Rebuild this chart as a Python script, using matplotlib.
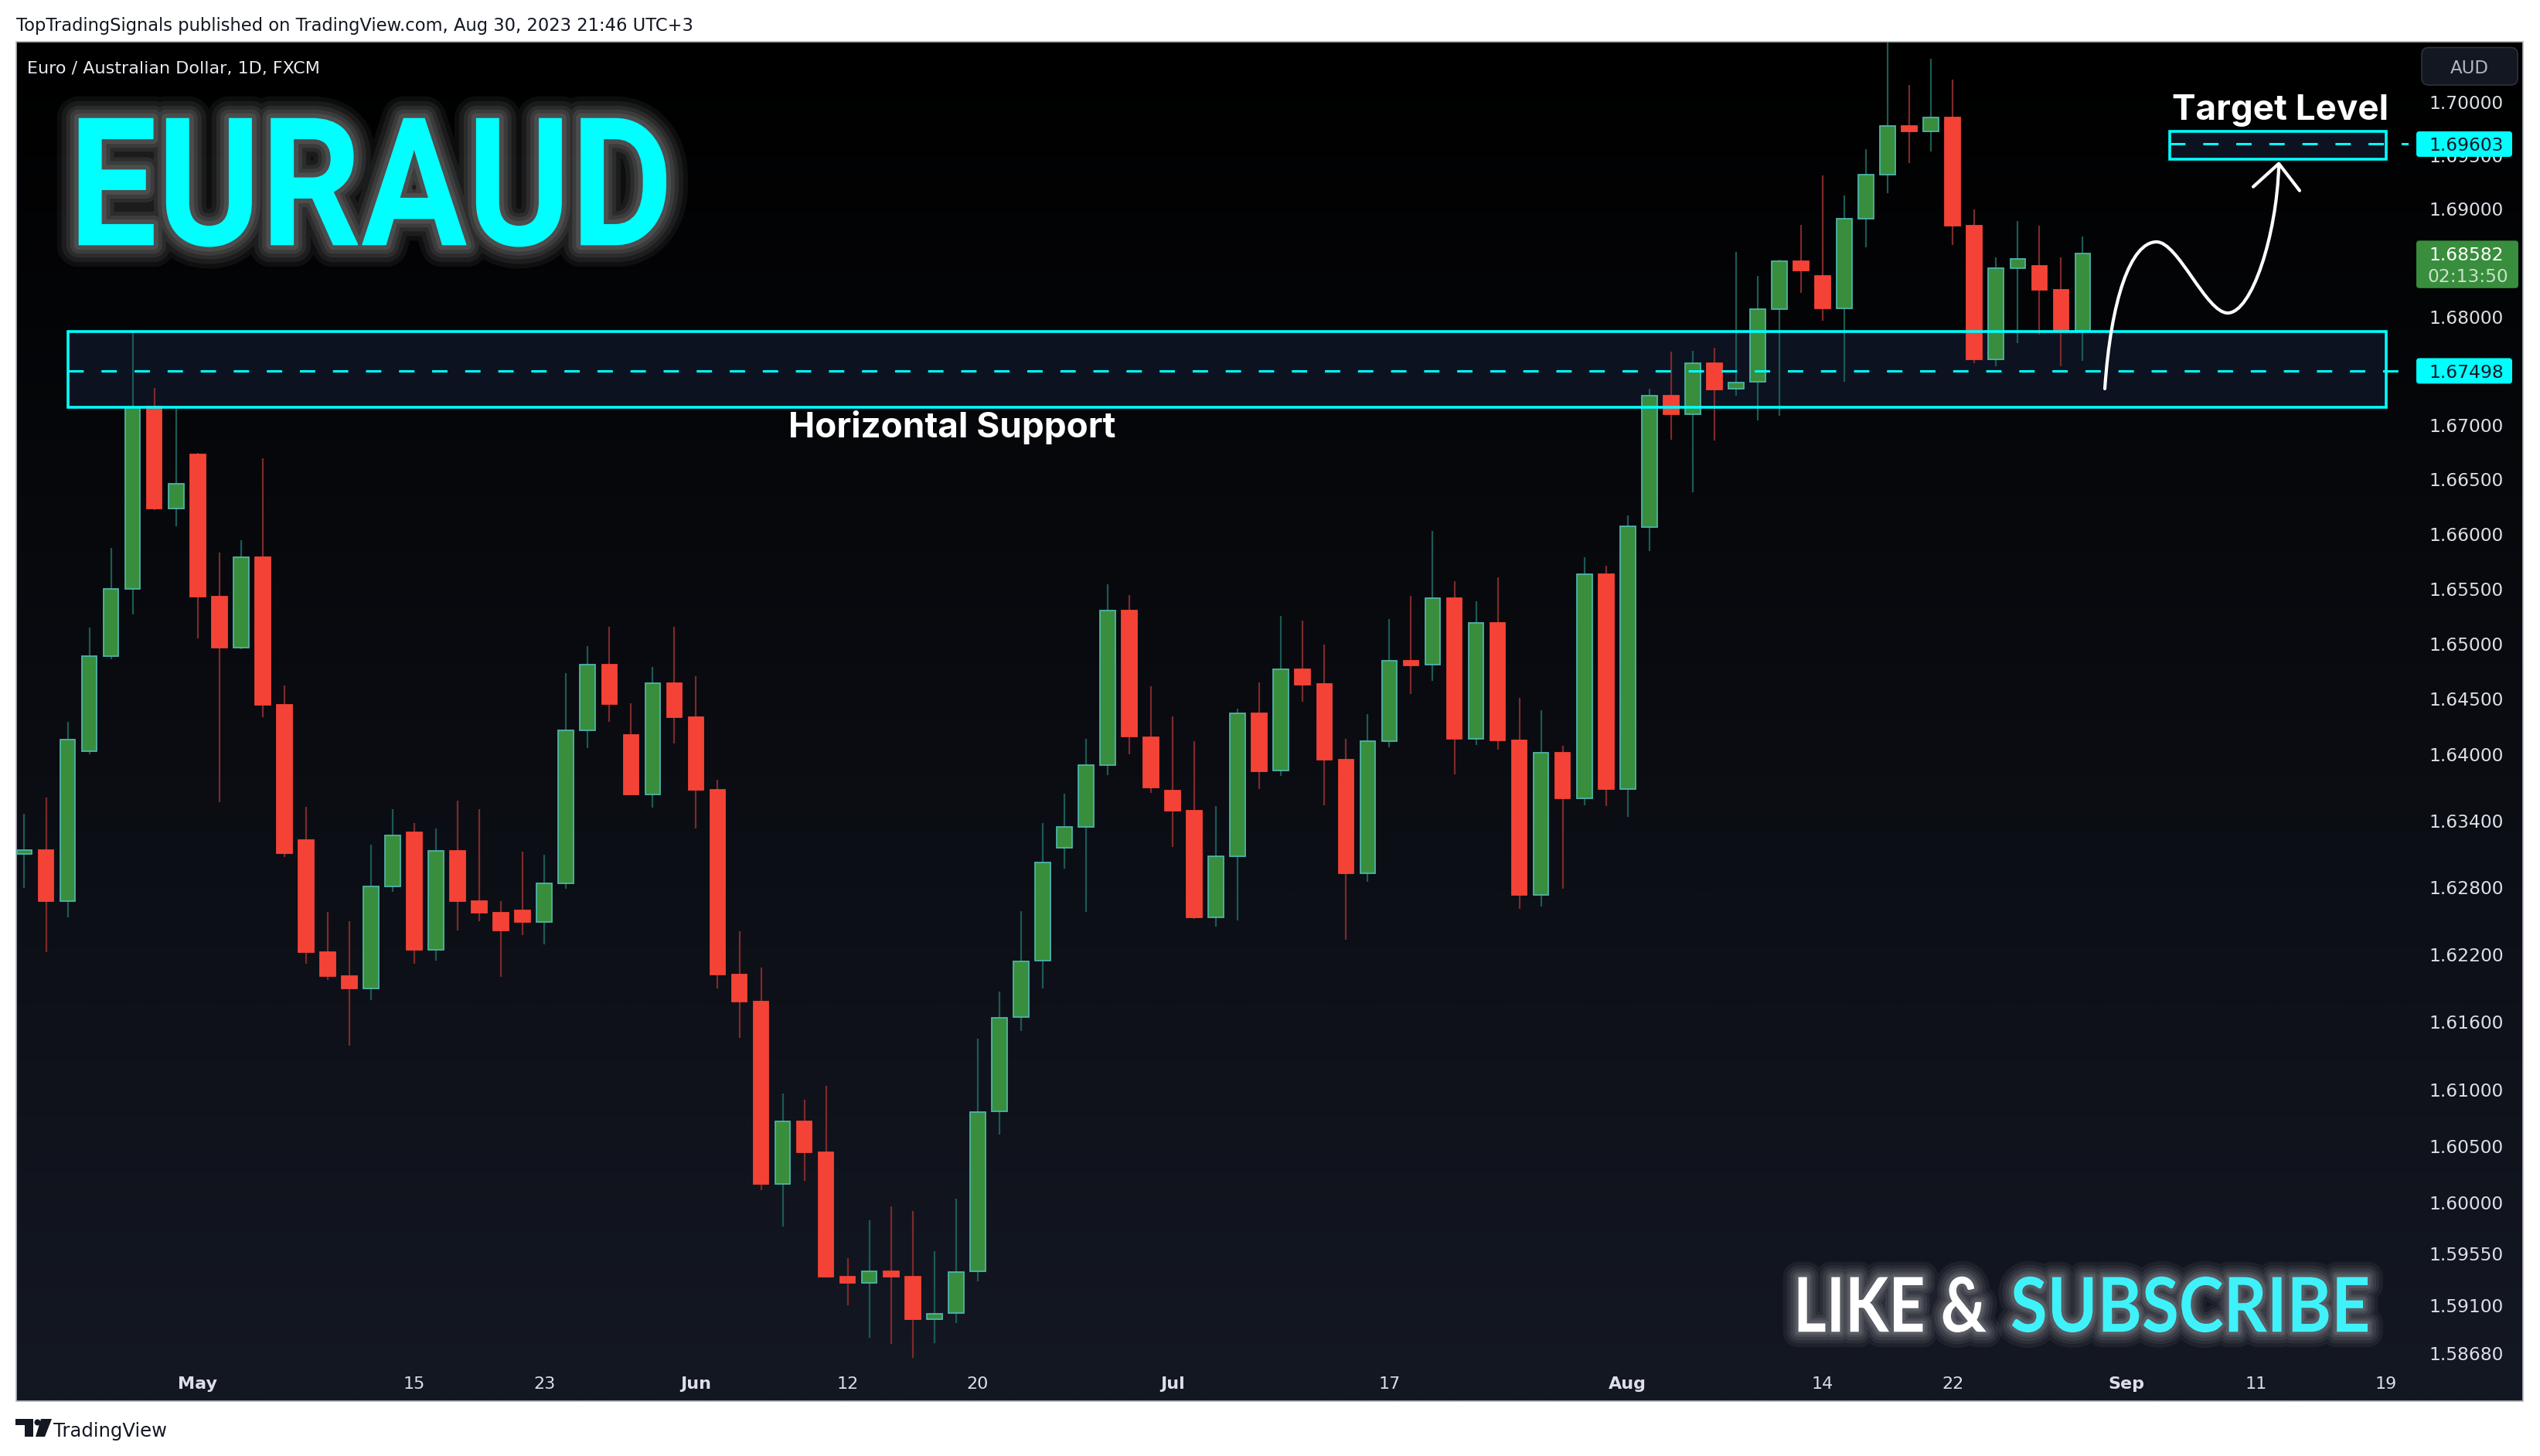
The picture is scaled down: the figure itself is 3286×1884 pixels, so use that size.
import numpy as np
import matplotlib
matplotlib.use("Agg")
import matplotlib.pyplot as plt
from matplotlib.patches import Rectangle, PathPatch, FancyBboxPatch, Polygon, Circle
from matplotlib.path import Path
from matplotlib.textpath import TextPath
from matplotlib.font_manager import FontProperties
from matplotlib.transforms import Affine2D, blended_transform_factory
from matplotlib.ticker import FixedLocator, FixedFormatter, NullLocator
from matplotlib.lines import Line2D

# --- data: EURAUD daily candles, x = trading-day offset from May 1, 2023 ---
days = np.arange(-8, 88)
open_ = [1.63103, 1.63135, 1.62681, 1.64029, 1.64885, 1.65503, 1.67168, 1.66232,
         1.66732, 1.65426, 1.64962, 1.65789, 1.64443, 1.63229, 1.62220, 1.62011,
         1.61896, 1.62808, 1.63294, 1.62240, 1.63130, 1.62681, 1.62578, 1.62597,
         1.62490, 1.62836, 1.64218, 1.64808, 1.64174, 1.63640, 1.64645, 1.64335,
         1.63679, 1.62021, 1.61784, 1.60165, 1.60716, 1.60447, 1.59349, 1.59292,
         1.59397, 1.59349, 1.58974, 1.59031, 1.59397, 1.60807, 1.61644, 1.62146,
         1.63157, 1.63342, 1.63899, 1.65304, 1.64154, 1.63670, 1.63490, 1.62530,
         1.63078, 1.64366, 1.63851, 1.64766, 1.64638, 1.63950, 1.62929, 1.64115,
         1.64843, 1.64809, 1.65418, 1.64141, 1.65188, 1.64128, 1.62737, 1.64010,
         1.63599, 1.65632, 1.63683, 1.66066, 1.67273, 1.67101, 1.67566, 1.67333,
         1.67397, 1.68072, 1.68510, 1.68376, 1.68078, 1.68904, 1.69316, 1.69770,
         1.69719, 1.69851, 1.68840, 1.67601, 1.68447, 1.68469, 1.68251, 1.67871]
high = [1.63466, 1.63610, 1.64295, 1.65147, 1.65875, 1.67864, 1.67340, 1.67148,
        1.66745, 1.65830, 1.65944, 1.66695, 1.64624, 1.63525, 1.62582, 1.62498,
        1.63186, 1.63505, 1.63377, 1.63329, 1.63581, 1.63505, 1.62677, 1.63122,
        1.63095, 1.64732, 1.64978, 1.65155, 1.64463, 1.64787, 1.65156, 1.64708,
        1.63771, 1.62408, 1.62084, 1.60965, 1.60908, 1.61032, 1.59511, 1.59845,
        1.59969, 1.59926, 1.59574, 1.60036, 1.61451, 1.61872, 1.62588, 1.63381,
        1.63645, 1.64139, 1.65542, 1.65442, 1.64615, 1.64344, 1.64119, 1.63534,
        1.64413, 1.64650, 1.65254, 1.65211, 1.64994, 1.64141, 1.64362, 1.65226,
        1.65437, 1.66028, 1.65572, 1.65387, 1.65606, 1.64509, 1.64397, 1.64075,
        1.65789, 1.65711, 1.66170, 1.67333, 1.67677, 1.67684, 1.67710, 1.68600,
        1.68376, 1.68526, 1.68849, 1.69312, 1.69123, 1.69557, 1.70600, 1.70157,
        1.70405, 1.70205, 1.68994, 1.68550, 1.68885, 1.68843, 1.68550, 1.68742]
low = [1.62797, 1.62220, 1.62530, 1.64001, 1.64857, 1.65268, 1.66220, 1.66069,
       1.65046, 1.63565, 1.64953, 1.64334, 1.63071, 1.62121, 1.61971, 1.61390,
       1.61793, 1.62764, 1.62117, 1.62149, 1.62415, 1.62498, 1.62001, 1.62372,
       1.62288, 1.62792, 1.64053, 1.64290, 1.63630, 1.63518, 1.64099, 1.63332,
       1.61896, 1.61456, 1.60107, 1.59788, 1.60189, 1.59340, 1.59097, 1.58813,
       1.58761, 1.58637, 1.58765, 1.58945, 1.59311, 1.60601, 1.61523, 1.61896,
       1.62969, 1.62583, 1.63811, 1.64001, 1.63649, 1.63161, 1.62520, 1.62447,
       1.62509, 1.63683, 1.63804, 1.64475, 1.63540, 1.62333, 1.62849, 1.64063,
       1.64544, 1.64666, 1.63820, 1.64085, 1.64038, 1.62610, 1.62629, 1.62790,
       1.63540, 1.63534, 1.63437, 1.65846, 1.66863, 1.66379, 1.66857, 1.67270,
       1.67044, 1.67086, 1.68219, 1.67960, 1.67400, 1.68639, 1.69142, 1.69429,
       1.69531, 1.68664, 1.67572, 1.67537, 1.67756, 1.67836, 1.67537, 1.67588]
close = [1.63135, 1.62681, 1.64134, 1.64885, 1.65503, 1.67164, 1.66232, 1.66463,
         1.65426, 1.64962, 1.65789, 1.64443, 1.63111, 1.62220, 1.62011, 1.61896,
         1.62808, 1.63270, 1.62240, 1.63130, 1.62681, 1.62578, 1.62415, 1.62490,
         1.62836, 1.64218, 1.64808, 1.64455, 1.63640, 1.64645, 1.64335, 1.63679,
         1.62021, 1.61784, 1.60165, 1.60716, 1.60447, 1.59349, 1.59292, 1.59397,
         1.59349, 1.58974, 1.59026, 1.59392, 1.60802, 1.61639, 1.62141, 1.63026,
         1.63342, 1.63899, 1.65304, 1.64159, 1.63698, 1.63490, 1.62530, 1.63078,
         1.64366, 1.63848, 1.64766, 1.64631, 1.63947, 1.62929, 1.64115, 1.64843,
         1.64806, 1.65418, 1.64141, 1.65188, 1.64128, 1.62737, 1.64010, 1.63599,
         1.65632, 1.63683, 1.66069, 1.67273, 1.67101, 1.67566, 1.67330, 1.67394,
         1.68072, 1.68510, 1.68430, 1.68078, 1.68904, 1.69316, 1.69770, 1.69719,
         1.69851, 1.68840, 1.67601, 1.68447, 1.68533, 1.68251, 1.67871, 1.68582]

time_pos = [0, 10, 16, 23, 30, 36, 45, 55, 66, 75, 81, 89, 95, 101]
time_lbl = ["May", "15", "23", "Jun", "12", "20", "Jul", "17", "Aug", "14", "22", "Sep", "11", "19"]
months = {"May", "Jun", "Jul", "Aug", "Sep"}

price_ticks = [1.70, 1.695, 1.69, 1.68, 1.67, 1.665, 1.66, 1.655, 1.65, 1.645, 1.64,
               1.634, 1.628, 1.622, 1.616, 1.61, 1.605, 1.60, 1.5955, 1.591, 1.5868]

support_level = 1.67498
support_zone = (1.67163, 1.67860)
support_span = (-6, 101)
target_level = 1.69603
target_zone = (1.69462, 1.69722)
target_span = (91, 101)
last_price = 1.68582
countdown = "02:13:50"

# hand drawn projection (bezier points) and arrow head, in (day, price)
curve_pts = [(88.02, 1.67334), (88.3, 1.6815), (89.2, 1.68692), (90.41, 1.68692),
             (91.4, 1.68692), (92.7, 1.68033), (93.69, 1.68033),
             (94.8, 1.68033), (95.95, 1.6875), (96.05, 1.6940)]
arrow_head = [(94.87, 1.69205), (96.05, 1.69421), (97.01, 1.69169)]

# colours
CYAN = "#00ffff"
UP, UP_EDGE, UP_WICK = "#388e3c", "#4fb3a9", "#1b5a55"
DN, DN_EDGE, DN_WICK = "#f44336", "#f44336", "#7d2a2a"
TXT = "#dcdfe6"

W, H = 3286, 1884
fig = plt.figure(figsize=(W / 100, H / 100), dpi=100, facecolor="white")

# background layer in pixel coords (top-left origin)
bg = fig.add_axes([0, 0, 1, 1], zorder=0)
bg.set_xlim(0, W)
bg.set_ylim(H, 0)
bg.axis("off")
top_c = np.array([0, 0, 0]) / 255
bot_c = np.array([20, 24, 35]) / 255
t = np.linspace(0, 1, 256)[:, None, None]
grad = top_c * (1 - t) + bot_c * t
bg.imshow(grad, extent=(21, 3264, 1813, 54), origin="upper", aspect="auto",
          interpolation="bilinear")
bg.add_patch(Rectangle((21, 54), 3243, 1759, fill=False, edgecolor="#b4b7be", lw=1.2))

# main price chart
L, R, T, B = 21, 3116, 54.5, 1764
ax = fig.add_axes([L / W, 1 - B / H, (R - L) / W, (B - T) / H], zorder=1)
ax.patch.set_alpha(0)
ax.set_yscale("log")
ax.set_xlim(-8.374, 102.04)
ax.set_ylim(1.58591, 1.70558)
for s in ax.spines.values():
    s.set_visible(False)
ax.set_xticks([])
ax.yaxis.tick_right()
ax.yaxis.set_major_locator(FixedLocator(price_ticks))
ax.yaxis.set_major_formatter(FixedFormatter([f"{p:.5f}" for p in price_ticks]))
ax.yaxis.set_minor_locator(NullLocator())
ax.tick_params(axis="y", which="both", length=0, pad=19.0, labelsize=16.8, labelcolor=TXT)

o = np.array(open_); c = np.array(close); hi = np.array(high); lo = np.array(low)
up = c >= o

# zones (fill behind candles, outline on top)
for (x0, x1), (z0, z1) in [(support_span, support_zone), (target_span, target_zone)]:
    ax.add_patch(Rectangle((x0, z0), x1 - x0, z1 - z0, facecolor="#0c1220",
                           edgecolor="none", zorder=1))
    ax.add_patch(Rectangle((x0, z0), x1 - x0, z1 - z0, fill=False,
                           edgecolor=CYAN, lw=2.6, zorder=5))

ax.vlines(days, lo, hi, colors=np.where(up, UP_WICK, DN_WICK), lw=1.6, zorder=2)
ax.bar(days, np.abs(c - o), bottom=np.minimum(o, c), width=0.70,
       color=np.where(up, UP, DN), edgecolor=np.where(up, UP_EDGE, DN_EDGE),
       linewidth=1.3, zorder=3)

for lvl, x0 in [(support_level, support_span[0]), (target_level, target_span[0])]:
    ax.hlines(lvl, x0, 102.04, colors=CYAN, lw=2.2, linestyles=(0, (6.5, 7.5)), zorder=5)

codes = [Path.MOVETO] + [Path.CURVE4] * 9
ax.add_patch(PathPatch(Path(curve_pts, codes), facecolor="none", edgecolor="white",
                       lw=3.0, capstyle="round", zorder=6))
ax.add_line(Line2D([p[0] for p in arrow_head], [p[1] for p in arrow_head], color="white",
                   lw=3.0, solid_capstyle="round", solid_joinstyle="round", zorder=6))

# overlay layer in pixel coords (top-left origin)
top = fig.add_axes([0, 0, 1, 1], zorder=3)
top.set_xlim(0, W)
top.set_ylim(H, 0)
top.axis("off")
top.patch.set_alpha(0)


def price_y(p):
    return H - ax.transData.transform((0, p))[1]


# price scale labels
for lvl in (target_level, support_level):
    y = price_y(lvl)
    top.add_patch(FancyBboxPatch((3126, y - 16.5), 124, 33,
                                 boxstyle="round,pad=0,rounding_size=4",
                                 facecolor=CYAN, edgecolor="none"))
    top.text(3142, y, f"{lvl:.5f}", color="#131722", fontsize=16.8, va="center_baseline")
y = price_y(last_price)
top.add_patch(FancyBboxPatch((3126, y - 17), 132, 61.5, boxstyle="round,pad=0,rounding_size=4",
                             facecolor=UP, edgecolor="none"))
top.text(3142, y, f"{last_price:.5f}", color="white", fontsize=16.8, va="center_baseline")
top.text(3193, y + 27.5, countdown, color="#c9e2ca", fontsize=16.8, ha="center",
         va="center_baseline")
top.add_patch(FancyBboxPatch((3133, 61.5), 124, 48.5, boxstyle="round,pad=0,rounding_size=9",
                             facecolor="#131722", edgecolor="#2e323d", lw=1.2))
top.text(3195, 86, "AUD", color="#b2b5be", fontsize=16.5, ha="center", va="center_baseline")

# time axis
tx = blended_transform_factory(ax.transData, top.transData)
for p, s in zip(time_pos, time_lbl):
    top.text(p, 1797, s, transform=tx, ha="center", va="baseline", fontsize=16,
             color=TXT, fontweight="bold" if s in months else "normal")

# header / footer
top.text(21, 40, "TopTradingSignals published on TradingView.com, Aug 30, 2023 21:46 UTC+3",
         fontsize=16.3, color="#131722", va="baseline")
top.text(35, 95, "Euro / Australian Dollar, 1D, FXCM", fontsize=16.0, color="#e8eaf0",
         va="baseline")
top.add_patch(Polygon([(20, 1836), (43, 1836), (43, 1859), (32, 1859), (32, 1844), (20, 1844)],
                      facecolor="#131722", edgecolor="none"))
top.add_patch(Circle((48.5, 1840.5), 4.0, facecolor="#131722", edgecolor="none"))
top.add_patch(Polygon([(53, 1836), (67, 1836), (58, 1859), (46, 1859)],
                      facecolor="#131722", edgecolor="none"))
top.text(69, 1859, "TradingView", fontsize=17.5, color="#131722", va="baseline")

# annotations
bold = FontProperties(family=["Inter", "Roboto", "DejaVu Sans"], weight="bold")
top.text(2950, 155, "Target Level", fontproperties=bold, fontsize=33, color="white",
         ha="center", va="baseline")
top.text(1232, 566, "Horizontal Support", fontproperties=bold, fontsize=33, color="white",
         ha="center", va="baseline")


def box_text_path(s, prop, x0, x1, ytop, ybase):
    tp = TextPath((0, 0), s, size=100, prop=prop)
    ext = tp.get_extents()
    sx = (x1 - x0) / ext.width
    sy = (ybase - ytop) / ext.y1
    tr = Affine2D().translate(-ext.x0, 0).scale(sx, -sy).translate(x0, ybase)
    return tr.transform_path(tp)


def glow(path, face, layers):
    for w, a in layers:
        top.add_patch(PathPatch(path, facecolor="none", edgecolor="white", lw=w * 0.72,
                                alpha=a, joinstyle="round"))
    top.add_patch(PathPatch(path, facecolor=face, edgecolor="none"))


big = FontProperties(family=["Roboto", "DejaVu Sans"], weight="bold")
glow(box_text_path("EURAUD", big, 101.7, 862, 152.7, 317.3), CYAN,
     [(56, .05), (44, .06), (32, .07), (22, .08), (12, .09)])
sub = FontProperties(family=["Lato", "DejaVu Sans"], weight="bold")
halo = [(40, .05), (30, .06), (22, .07), (14, .08), (8, .09)]
glow(box_text_path("LIKE &", sub, 2326.6, 2569.8, 1651.7, 1723.3), "white", halo)
glow(box_text_path("SUBSCRIBE", sub, 2602.8, 3063, 1651.7, 1723.3), "#3ff2fa", halo)

fig.savefig("out.png", dpi=100)
